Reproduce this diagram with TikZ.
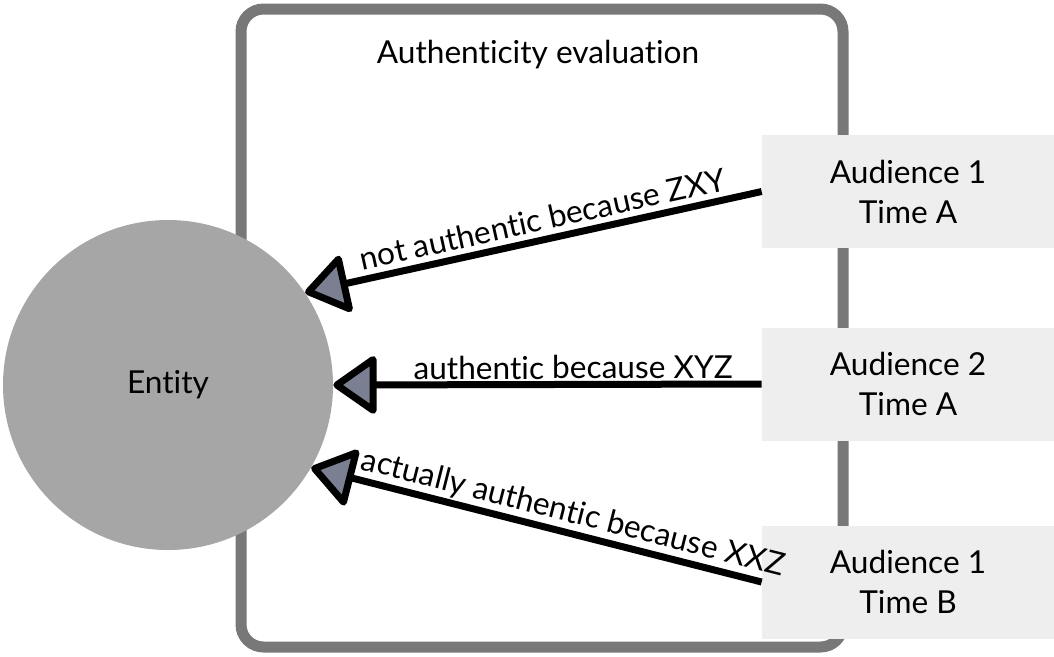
\documentclass[tikz,border=0pt]{standalone}
\usepackage{fontspec}
\setmainfont{Lato}[Ligatures=NoCommon]
\usetikzlibrary{arrows.meta}
\definecolor{framegray}{RGB}{120,120,120}
\definecolor{entitygray}{RGB}{166,166,166}
\definecolor{boxgray}{RGB}{238,238,238}
\definecolor{tipgray}{RGB}{122,128,146}

\tikzset{
  audience/.style = {
    fill=boxgray, minimum width=5.84cm, minimum height=2.26cm,
    align=center, inner sep=0pt
  },
  verdict/.style = {
    <-, line width=0.14cm
  },
  verdict label/.style = {above, sloped, inner sep=1pt}
}
\tikzset{>={Triangle[length=0.92cm,width=1.25cm,fill=tipgray,round]}}

\begin{document}
\begin{tikzpicture}[font=\fontsize{18}{22.8}\selectfont]
  \useasboundingbox (0,0) rectangle (21.08,-13.12);
  % frame
  \draw[framegray,line width=0.22cm,rounded corners=0.45cm]
       (4.82,-0.18) rectangle (16.86,-12.94);
  \node (title) at (10.76,-1.10) {Authenticity evaluation};
  % entity
  \node[circle,fill=entitygray,minimum size=6.6cm] (entity) at (3.36,-7.70) {Entity};
  % audiences
  \node[audience] (aud1a) at (18.16,-3.83)  {Audience 1\\Time A};
  \node[audience] (aud2a) at (18.16,-7.68)  {Audience 2\\Time A};
  \node[audience] (aud1b) at (18.16,-11.64) {Audience 1\\Time B};
  % evaluations
  \draw[verdict] (entity.34)  -- node[verdict label,pos=0.53,inner sep=3pt] {not authentic because ZXY} (aud1a.west);
  \draw[verdict] (entity.east) -- node[verdict label,pos=0.56] {authentic because XYZ} (aud2a.west);
  \draw[verdict] (entity.-30) -- node[verdict label,pos=0.57] {actually authentic because XXZ} (aud1b.west);
\end{tikzpicture}
\end{document}
